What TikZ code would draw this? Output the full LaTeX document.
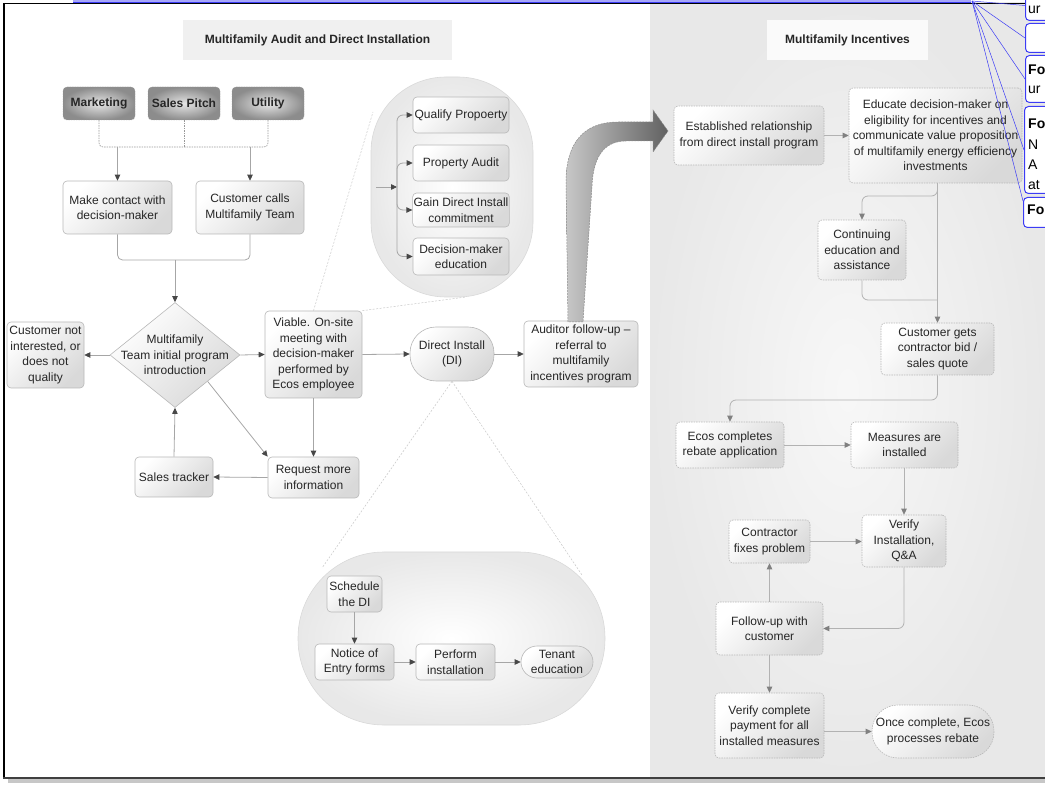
\documentclass[tikz,border=0pt]{standalone}
\usepackage{fontspec}
\setmainfont{Liberation Sans}
\usetikzlibrary{shapes.geometric,arrows.meta,calc}
\definecolor{annblue}{RGB}{60,60,245}
\begin{document}
\begin{tikzpicture}[x=1pt,y=-1pt,
  font=\fontsize{12}{15.5}\selectfont,
  box/.style={draw=black!28, line width=0.6pt, rounded corners=4pt, top color=white, bottom color=black!15, shading angle=45, align=center, inner sep=1pt, text=black!85},
  rbox/.style={box, draw=black!28, dash pattern=on 1.5pt off 1pt},
  src/.style={draw=black!40, dash pattern=on 1.5pt off 1pt, rounded corners=4pt, inner color=black!10, outer color=black!45, font=\fontsize{12}{14}\selectfont\bfseries, minimum width=72pt, minimum height=33pt, text=black!85},
  bubble/.style={draw=black!15, line width=0.6pt, inner color=white, outer color=black!9},
  ln/.style={draw=black!35, line width=0.8pt},
  arr/.style={ln, -{Triangle[length=6pt,width=5.5pt,color=black!72]}},
  rln/.style={draw=black!30, line width=0.8pt},
  rarr/.style={rln, -{Triangle[length=6pt,width=5.5pt,color=black!50]}},
  dl/.style={draw=black!40, line width=0.6pt, dash pattern=on 1.5pt off 1pt},
  callout/.style={draw=black!22, line width=0.5pt, dash pattern=on 2pt off 1.5pt},
  ttl/.style={font=\fontsize{12}{14}\selectfont\bfseries, text=black!85},
  ann/.style={draw=annblue, line width=1pt, fill=white, rounded corners=4pt},
  annt/.style={anchor=west, font=\fontsize{14}{17}\selectfont, inner sep=0pt}
]
\useasboundingbox (0,0) rectangle (1045,791);
% right panel
\shade[inner color=black!3, outer color=black!9] (650,3) rectangle (1045,777);
% frame
\fill[black!22] (8,778) rectangle (1045,783);
\draw[line width=1.6pt] (4,777) -- (4,3.5) -- (1045,3.5);
\draw[line width=2pt, black!75] (3,777.5) -- (1045,777.5);
% titles
\node[ttl, fill=black!6, minimum width=269pt, minimum height=40pt] (t1) at (317.5,40) {Multifamily Audit and Direct Installation};
\node[ttl, fill=black!2, minimum width=161pt, minimum height=40pt] (t2) at (847.5,40) {Multifamily Incentives};

% bubbles
\node[bubble, rounded corners=75pt, minimum width=162pt, minimum height=220pt] (ub) at (452,187) {};
\node[bubble, rounded corners=86pt, minimum width=307pt, minimum height=173pt] (lb) at (451.5,638.5) {};

% sources
\node[src] (mkt) at (99,103.5) {Marketing};
\node[src] (sp) at (184,103.5) {Sales Pitch};
\node[src] (util) at (268,103.5) {Utility};

% left nodes
\node[box, minimum width=109pt, minimum height=53pt] (make) at (117.5,207.5) {Make contact with\\decision-maker};
\node[box, minimum width=108pt, minimum height=53pt] (custc) at (250,207.5) {Customer calls\\Multifamily Team};
\node[diamond, draw=black!28, line width=0.6pt, top color=white, bottom color=black!15, shading angle=45, minimum width=130pt, minimum height=105pt, inner sep=0pt] (diam) at (175,355) {};
\node[align=center, text=black!85] (diamt) at (diam.center) {Multifamily\\Team initial program\\introduction};
\node[box, minimum width=77pt, minimum height=66pt] (notint) at (45.5,355) {Customer not\\interested, or\\does not\\quality};
\node[box, minimum width=97pt, minimum height=87pt] (viable) at (313.5,354.5) {Viable. On-site\\meeting with\\decision-maker\\performed by\\Ecos employee};
\node[box, minimum width=91pt, minimum height=41pt] (req) at (313.5,477.5) {Request more\\information};
\node[box, minimum width=78pt, minimum height=40pt] (sales) at (174,477) {Sales tracker};
\node[box, rounded corners=26pt, minimum width=84pt, minimum height=54pt] (di) at (452,354) {Direct Install\\(DI)};
\node[box, minimum width=114pt, minimum height=66pt] (aud) at (581,354) {Auditor follow-up --\\referral to\\multifamily\\incentives program};

% upper bubble items
\node[box, minimum width=96pt, minimum height=36pt] (q) at (461,115) {Qualify Propoerty};
\node[box, minimum width=96pt, minimum height=36pt] (pa) at (461,163) {Property Audit};
\node[box, minimum width=96pt, minimum height=34pt] (gd) at (461,210) {Gain Direct Install\\commitment};
\node[box, minimum width=96pt, minimum height=37pt] (dm) at (461,256.5) {Decision-maker\\education};

% lower bubble items
\node[box, minimum width=55pt, minimum height=36pt] (sch) at (354.5,594) {Schedule\\the DI};
\node[box, minimum width=79pt, minimum height=36pt] (noe) at (354.5,662) {Notice of\\Entry forms};
\node[box, minimum width=79pt, minimum height=36pt] (per) at (455.5,662) {Perform\\installation};
\node[box, rounded corners=16pt, minimum width=72pt, minimum height=32pt] (ten) at (557,662) {Tenant\\education};

% right nodes
\node[rbox, minimum width=150pt, minimum height=59pt] (est) at (749,135.5) {Established relationship\\from direct install program};
\node[rbox, minimum width=173pt, minimum height=95pt] (edu) at (935.5,135.5) {Educate decision-maker on\\eligibility for incentives and\\communicate value proposition\\of multifamily energy efficiency\\investments};
\node[rbox, minimum width=88pt, minimum height=60pt] (cont) at (862,250) {Continuing\\education and\\assistance};
\node[rbox, minimum width=113pt, minimum height=52pt] (cg) at (937.5,349) {Customer gets\\contractor bid /\\sales quote};
\node[rbox, minimum width=108pt, minimum height=46pt] (ecos) at (730,445) {Ecos completes\\rebate application};
\node[rbox, minimum width=107pt, minimum height=46pt] (meas) at (904.5,445) {Measures are\\installed};
\node[rbox, minimum width=84pt, minimum height=52pt] (ver) at (904,541) {Verify\\Installation,\\Q\&A};
\node[rbox, minimum width=81pt, minimum height=43pt] (con) at (769.5,541.5) {Contractor\\fixes problem};
\node[rbox, minimum width=107pt, minimum height=53pt] (fu) at (769.5,628.5) {Follow-up with\\customer};
\node[rbox, minimum width=109pt, minimum height=65pt] (vc) at (769.5,725.5) {Verify complete\\payment for all\\installed measures};
\node[rbox, rounded corners=26pt, minimum width=122pt, minimum height=53pt] (once) at (933,731.5) {Once complete, Ecos\\processes rebate};

% source connectors
\coordinate (hj) at (0,147);
\draw[dl, rounded corners=4pt] (mkt.south) |- (util.south |- hj) -- (util.south);
\draw[dl] (sp.south) -- (sp.south |- hj);
\draw[arr] (make.north |- hj) -- (make.north);
\draw[arr] (custc.north |- hj) -- (custc.north);
\coordinate (mj) at (0,260);
\draw[ln, rounded corners=5pt] (make.south) |- (custc.south |- mj) -- (custc.south);
\draw[arr] (diam.north |- mj) -- (diam.north);

% left flow
\draw[arr] (diam.west) -- (notint.east);
\draw[arr] (diam.east) -- (viable.west);
\draw[arr] (viable.south) -- (req.north);
\draw[arr] (diam.south east) -- (req.north west);
\draw[arr] (req.west) -- (sales.east);
\draw[arr] (sales.north) -- (diam.south);
\draw[arr] (viable.east) -- (di.west);
\draw[arr] (di.east) -- (aud.west);

% upper bubble connectors
\coordinate (ubin) at (376,187);
\coordinate (jn) at (397,187);
\draw[arr] (ubin) -- (jn);
\foreach \n in {q,pa,gd,dm} \draw[arr, rounded corners=6pt] (jn) |- (\n.west);

% lower bubble connectors
\draw[arr] (sch.south) -- (noe.north);
\draw[arr] (noe.east) -- (per.west);
\draw[arr] (per.east) -- (ten.west);

% callouts
\coordinate (c1) at (373,112);
\coordinate (c2) at (466,297);
\coordinate (c3) at (322,568);
\coordinate (c4) at (582,575);
\draw[callout] (viable.north) -- (c1);
\draw[callout] (viable.north east) -- (c2);
\draw[callout] (di.south) -- (c3);
\draw[callout] (di.south) -- (c4);

% big curved arrow
\shade[left color=black!22, right color=black!62, draw=black!45, dash pattern=on 2pt off 1pt, line width=0.5pt]
  (568,322) -- (566,182) .. controls (566,145) and (582,122) .. (618,122) -- (653,122) -- (653,110) -- (668,131) -- (653,152) -- (653,141) -- (626,141) .. controls (602,141) and (593,160) .. (592,186) -- (583,322) -- cycle;

% right connectors
\draw[rarr] (est.east) -- (edu.west);
\draw[rarr] (cg.north |- edu.south) -- (cg.north);
\draw[rarr, rounded corners=6pt] (cg.north |- edu.south) |- (cont.north |- 0,196) -- (cont.north);
\draw[rln, rounded corners=6pt] (cont.south) |- (cg.north |- 0,300);
\draw[rarr, rounded corners=6pt] (cg.south) |- (ecos.north |- 0,400) -- (ecos.north);
\draw[rarr] (ecos.east) -- (meas.west);
\draw[rarr] (meas.south -| ver.north) -- (ver.north);
\draw[rarr] (con.east) -- (ver.west |- con.east);
\draw[rarr, rounded corners=6pt] (ver.south) |- (fu.east);
\draw[rarr] (fu.north) -- (con.south);
\draw[rarr] (fu.south) -- (vc.north);
\draw[rarr] (vc.east |- once.west) -- (once.west);

% annotation artefacts (top right)
\begin{scope}
\clip (0,0) rectangle (1045,791);
\fill[annblue!45] (73,0) rectangle (971,3);
\draw[annblue, line width=0.8pt] (73,2.5) -- (971,2.5);
\coordinate (ao) at (972,1);
\node[ann, minimum width=50pt, minimum height=30pt, anchor=north west] (a1) at (1025,-10) {};
\node[ann, minimum width=50pt, minimum height=29pt, anchor=north west] (a2) at (1025,23) {};
\node[ann, minimum width=50pt, minimum height=47pt, anchor=north west] (a3) at (1025,55) {};
\node[ann, minimum width=50pt, minimum height=87pt, anchor=north west] (a4) at (1024,106) {};
\node[ann, minimum width=50pt, minimum height=30pt, anchor=north west] (a5) at (1023,197) {};
\draw[annblue, line width=0.5pt] (ao) -- (a1.west);
\draw[annblue, line width=0.5pt] (ao) -- (a2.west);
\draw[annblue, line width=0.5pt] (ao) -- (a3.west);
\draw[annblue, line width=0.5pt] (ao) -- (a4.west);
\draw[annblue, line width=0.5pt] (ao) -- ($(a5.north west)+(0,4)$);
\node[annt] (u1) at (1028,10) {ur};
\node[annt] (f3) at (1028,70) {\bfseries Fo};
\node[annt] (u3) at (1028,90) {ur};
\node[annt] (f4) at (1028,124) {\bfseries Fo};
\node[annt] (n4) at (1028,145) {N};
\node[annt] (l4) at (1028,165) {A};
\node[annt] (t4) at (1028,185) {at};
\node[annt] (f5) at (1027,210) {\bfseries Fo};
\end{scope}
\end{tikzpicture}
\end{document}
